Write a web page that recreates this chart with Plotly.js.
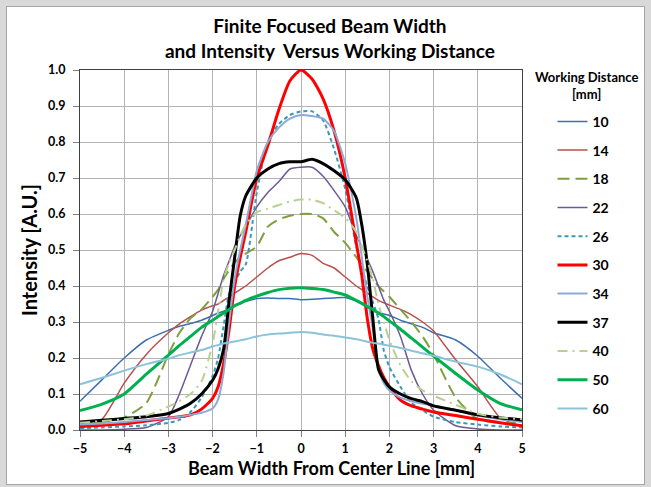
<!DOCTYPE html>
<html>
<head>
<meta charset="utf-8">
<script src="https://cdn.plot.ly/plotly-3.0.1.min.js"></script>
<style>
  html, body { margin: 0; padding: 0; background: #d9d9d9; width: 651px; height: 487px; overflow: hidden; }
  #chart { position: absolute; left: 6px; top: 6px; width: 637px; height: 477px; border: 1px solid #a6a6a6; background: #ffffff; }
</style>
</head>
<body>
<div id="chart"></div>
<script>
// Beam position from center line [mm]
const xPos = [-5,-4.5,-4,-3.5,-3,-2.75,-2.5,-2.25,-2,-1.875,-1.75,-1.625,-1.5,-1.375,-1.25,-1,-0.75,-0.5,-0.25,0,0.25,0.5,0.75,1,1.25,1.375,1.5,1.625,1.75,1.875,2,2.25,2.5,2.75,3,3.5,4,4.5,5];

// Intensity [A.U.] per working distance [mm]
const wd10 = [0.08,0.14,0.20,0.25,0.277,0.288,0.296,0.305,0.318,0.325,0.33,0.338,0.345,0.352,0.357,0.365,0.367,0.365,0.365,0.362,0.363,0.365,0.367,0.368,0.358,0.35,0.34,0.333,0.327,0.322,0.318,0.305,0.295,0.285,0.27,0.25,0.205,0.145,0.088];
const wd14 = [0.005,0.03,0.13,0.21,0.27,0.295,0.315,0.333,0.345,0.35,0.36,0.37,0.38,0.39,0.40,0.425,0.45,0.47,0.48,0.49,0.485,0.463,0.45,0.425,0.40,0.39,0.38,0.37,0.36,0.353,0.347,0.335,0.32,0.30,0.275,0.195,0.12,0.035,0.01];
const wd18 = [0.02,0.022,0.035,0.075,0.21,0.27,0.31,0.335,0.37,0.39,0.42,0.445,0.465,0.48,0.49,0.51,0.565,0.585,0.595,0.60,0.60,0.588,0.55,0.52,0.48,0.46,0.44,0.42,0.40,0.385,0.37,0.335,0.30,0.26,0.21,0.09,0.03,0.02,0.02];
const wd22 = [0.0,0.0,0.002,0.007,0.037,0.10,0.18,0.26,0.33,0.38,0.43,0.47,0.51,0.54,0.565,0.62,0.66,0.69,0.725,0.73,0.73,0.705,0.665,0.62,0.54,0.51,0.475,0.44,0.40,0.36,0.33,0.26,0.165,0.10,0.055,0.012,0.003,0.0,0.0];
const wd26 = [0.005,0.007,0.01,0.013,0.02,0.028,0.05,0.09,0.15,0.20,0.29,0.38,0.41,0.44,0.46,0.66,0.80,0.85,0.875,0.885,0.885,0.86,0.78,0.67,0.51,0.45,0.40,0.355,0.31,0.22,0.175,0.12,0.075,0.055,0.037,0.022,0.015,0.01,0.007];
const wd30 = [0.01,0.013,0.017,0.025,0.033,0.037,0.042,0.058,0.088,0.12,0.185,0.28,0.40,0.48,0.55,0.70,0.79,0.89,0.97,1.0,0.975,0.92,0.83,0.70,0.52,0.43,0.31,0.225,0.18,0.145,0.12,0.083,0.067,0.058,0.05,0.04,0.03,0.02,0.012];
const wd34 = [0.015,0.018,0.022,0.028,0.033,0.037,0.042,0.048,0.06,0.085,0.16,0.30,0.42,0.50,0.57,0.72,0.80,0.84,0.865,0.875,0.872,0.865,0.83,0.74,0.59,0.48,0.37,0.28,0.17,0.13,0.11,0.09,0.08,0.073,0.068,0.055,0.04,0.03,0.022];
const wd37 = [0.022,0.027,0.032,0.037,0.046,0.058,0.074,0.10,0.138,0.17,0.225,0.36,0.48,0.595,0.65,0.70,0.725,0.74,0.745,0.745,0.752,0.74,0.72,0.695,0.645,0.57,0.46,0.31,0.17,0.14,0.12,0.10,0.087,0.079,0.067,0.055,0.042,0.034,0.028];
const wd40 = [0.02,0.025,0.03,0.04,0.065,0.08,0.10,0.135,0.24,0.33,0.42,0.465,0.50,0.54,0.57,0.605,0.615,0.625,0.635,0.64,0.64,0.63,0.61,0.59,0.55,0.51,0.47,0.42,0.35,0.30,0.25,0.18,0.135,0.11,0.095,0.07,0.045,0.035,0.03];
const wd50 = [0.054,0.072,0.10,0.155,0.208,0.235,0.26,0.285,0.305,0.315,0.325,0.335,0.345,0.352,0.36,0.372,0.382,0.39,0.394,0.395,0.393,0.39,0.383,0.375,0.36,0.352,0.343,0.335,0.325,0.315,0.303,0.28,0.255,0.23,0.205,0.157,0.111,0.074,0.056];
const wd60 = [0.127,0.145,0.165,0.183,0.198,0.208,0.215,0.222,0.232,0.236,0.24,0.243,0.246,0.249,0.252,0.26,0.265,0.268,0.27,0.272,0.27,0.265,0.262,0.257,0.252,0.249,0.245,0.242,0.24,0.237,0.234,0.228,0.22,0.213,0.206,0.19,0.176,0.155,0.127];

const seriesNames = ['10','14','18','22','26','30','34','37','40','50','60'];
const seriesData = [wd10, wd14, wd18, wd22, wd26, wd30, wd34, wd37, wd40, wd50, wd60];

const styles = [
  {color:'#3E6FB0', width:1.5, dash:'solid'},
  {color:'#B8504C', width:1.5, dash:'solid'},
  {color:'#7F9F3F', width:2,   dash:'12px,6px'},
  {color:'#6E5896', width:1.5, dash:'solid'},
  {color:'#3A9AB6', width:2,   dash:'4px,3px'},
  {color:'#FF0000', width:3,   dash:'solid'},
  {color:'#8EAAD6', width:2,   dash:'solid'},
  {color:'#000000', width:3,   dash:'solid'},
  {color:'#B9D18E', width:2,   dash:'10px,5px,2px,5px'},
  {color:'#00B050', width:3,   dash:'solid'},
  {color:'#8CC3D9', width:2,   dash:'solid'}
];

const traces = seriesNames.map((n, i) => ({
  type: 'scatter', mode: 'lines', name: n, x: xPos, y: seriesData[i],
  legendgroup: 'g' + i,
  line: {color: styles[i].color, width: styles[i].width, dash: styles[i].dash, shape: 'spline', smoothing: 0.6}
}));

const font = 'Lato, "Liberation Sans", Arial, sans-serif';

const layout = {
  width: 637, height: 477,
  margin: {l: 73, r: 122, t: 63, b: 54},
  paper_bgcolor: '#ffffff', plot_bgcolor: '#ffffff',
  font: {family: font, color: '#000000'},
  title: {
    text: '<b>Finite Focused Beam Width</b><br><b>and Intensity&nbsp; Versus Working Distance</b>',
    font: {family: font, size: 19, color: '#000000'},
    x: 0.507, xanchor: 'center', y: 0.945, yanchor: 'top'
  },
  xaxis: {
    range: [-5, 5], dtick: 1, tick0: 0,
    showgrid: true, gridcolor: '#b3b3b3', gridwidth: 1,
    zeroline: false, showline: true, linecolor: '#404040', linewidth: 1, mirror: true,
    ticks: 'outside', ticklen: 6, tickcolor: '#808080', ticklabelstandoff: 1,
    tickfont: {family: font, size: 12.5, color: '#000000', weight: 'bold'}
  },
  yaxis: {
    range: [0, 1], dtick: 0.1, tick0: 0, tickformat: '.1f',
    showgrid: true, gridcolor: '#b3b3b3', gridwidth: 1,
    zeroline: false, showline: true, linecolor: '#404040', linewidth: 1, mirror: true,
    ticks: 'outside', ticklen: 6, tickcolor: '#808080', ticklabelstandoff: 5,
    tickfont: {family: font, size: 12.5, color: '#000000', weight: 'bold'},
    title: {text: '<b>Intensity [A.U.]</b>', font: {family: font, size: 20, color: '#000000'}, standoff: 5}
  },
  showlegend: true,
  legend: {
    x: 1.069, xanchor: 'left', y: 0.9006, yanchor: 'top',
    font: {family: font, size: 14, color: '#000000', weight: 'bold'},
    tracegroupgap: 7.5, itemwidth: 30, bgcolor: 'rgba(0,0,0,0)', borderwidth: 0
  },
  annotations: [
    {
      xref: 'paper', yref: 'paper', x: 1.147, y: 1.009, xanchor: 'center', yanchor: 'top',
      text: '<b>Working Distance</b><br><b>[mm]</b>', showarrow: false,
      font: {family: font, size: 13, color: '#000000'}, align: 'center'
    },
    {
      xref: 'paper', yref: 'paper', x: 0.568, y: -0.1056, xanchor: 'center', yanchor: 'middle',
      text: '<b>Beam Width From Center Line [mm]</b>', showarrow: false,
      font: {family: font, size: 18, color: '#000000'}
    }
  ]
};

Plotly.newPlot('chart', traces, layout, {displayModeBar: false, staticPlot: true});
</script>
</body>
</html>
